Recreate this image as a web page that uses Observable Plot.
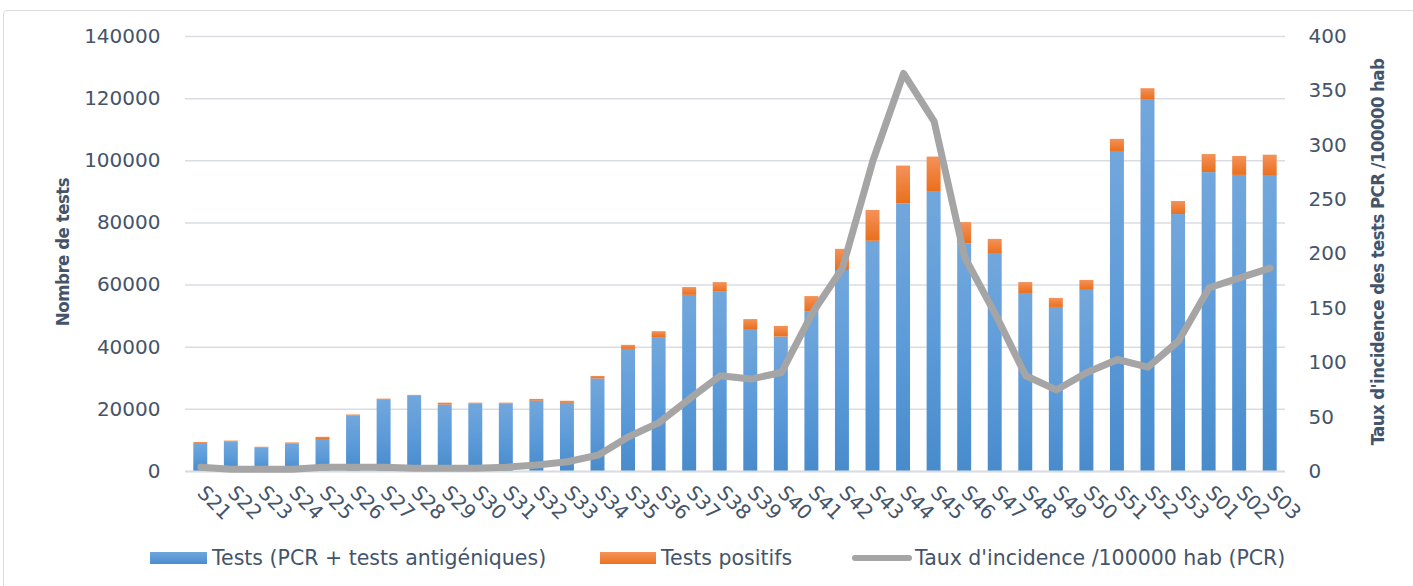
<!DOCTYPE html>
<html>
<head>
<meta charset="utf-8">
<script src="https://cdn.jsdelivr.net/npm/d3@7"></script>
<script src="https://cdn.jsdelivr.net/npm/@observablehq/plot@0.6"></script>
<style>
  html, body { margin: 0; padding: 0; background: #fff; }
  #wrap { position: relative; width: 1413px; height: 586px; overflow: hidden; font-family: "DejaVu Sans", sans-serif; color: #44546a; }
  #frame { position: absolute; left: 3px; top: 10px; width: 1430px; height: 600px; border: 1.5px solid #d9dde3; border-radius: 4px; box-sizing: border-box; }
  #chart { position: absolute; left: 0; top: 0; }
  .ytitle { position: absolute; font-family: "Liberation Sans Narrow", "DejaVu Sans Condensed", sans-serif; font-weight: bold; font-size: 18.5px; letter-spacing: -0.5px; color: #44546a; white-space: nowrap; transform: translate(-50%, -50%) rotate(-90deg); }
  #legend { position: absolute; top: 544px; left: 0; width: 1413px; height: 28px; font-size: 20.5px; }
  .li { position: absolute; top: 0; display: flex; align-items: center; height: 28px; white-space: nowrap; }
  .sw { display: inline-block; margin-right: 5px; }
</style>
</head>
<body>
<div id="wrap">
  <div id="frame"></div>
  <div id="chart"></div>
  <div class="ytitle" style="left:62px; top:252px;">Nombre de tests</div>
  <div class="ytitle" style="left:1377px; top:252px; letter-spacing:-0.6px;">Taux d'incidence des tests PCR /100000 hab</div>
  <div id="legend">
    <div class="li" style="left:150px;"><span class="sw" style="width:57px;height:12px;background:linear-gradient(#6fa6dc,#4a8ecf);"></span>Tests (PCR + tests antigéniques)</div>
    <div class="li" style="left:600px;"><span class="sw" style="width:56px;height:12px;background:linear-gradient(#f4935a,#ec7321);"></span>Tests positifs</div>
    <div class="li" style="left:852px;"><span class="sw" style="width:60px;height:6px;border-radius:3px;background:#a5a5a5;margin-right:3px;"></span>Taux d'incidence /100000 hab (PCR)</div>
  </div>
</div>
<script>
const weeks = ["S21","S22","S23","S24","S25","S26","S27","S28","S29","S30","S31","S32","S33","S34","S35","S36","S37","S38","S39","S40","S41","S42","S43","S44","S45","S46","S47","S48","S49","S50","S51","S52","S53","S01","S02","S03"];
const tests = [9000,9500,7550,8900,10300,17900,22950,24250,21400,21750,21750,22650,21950,29800,39300,43100,56700,57700,45700,43300,51300,64700,74100,86100,90100,73200,69900,57300,52800,58300,103000,119700,82700,96200,95300,95000];
const positifs = [300,300,250,300,700,300,350,250,600,250,250,550,650,800,1300,1900,2500,3100,3200,3400,5000,6800,9900,12200,11100,6900,4800,3500,2900,3200,3900,3500,4200,5800,6100,6800];
const incidence = [4,2,2,2,4,4,4,3,3,3,4,6,9,15,32,45,67,88,85,91,145,187,286,366,322,197,145,88,75,91,103,96,120,169,178,187];
const leftTicks = [0,20000,40000,60000,80000,100000,120000,140000];
const rightTicks = [0,50,100,150,200,250,300,350,400];

const ratio = 140000 / 400;
const rows = weeks.map((w, i) => ({week: w, tests: tests[i], positifs: positifs[i], incidence: incidence[i]}));

const inset = 8.3;
const chart = Plot.plot({
  width: 1413,
  height: 540,
  marginTop: 36,
  marginBottom: 69,
  marginLeft: 185,
  marginRight: 128,
  style: {fontFamily: "DejaVu Sans, sans-serif", fontSize: "20px", color: "#44546a", background: "transparent"},
  x: {domain: weeks, padding: 0, round: false},
  y: {domain: [0, 140000]},
  marks: [
    Plot.gridY(leftTicks, {stroke: "#d9dde3", strokeOpacity: 1, strokeWidth: 1.5}),
    Plot.barY(rows, {x: "week", y1: 0, y2: "tests", fill: "url(#gBlue)", insetLeft: inset, insetRight: inset}),
    Plot.barY(rows, {x: "week", y1: "tests", y2: d => d.tests + d.positifs, fill: "url(#gOrange)", insetLeft: inset, insetRight: inset}),
    Plot.ruleY([0], {stroke: "#d9dde3", strokeWidth: 2}),
    Plot.line(rows, {x: "week", y: d => d.incidence * ratio, stroke: "#a5a5a5", strokeWidth: 7, strokeLinecap: "round", strokeLinejoin: "round"}),
    Plot.axisY(leftTicks, {anchor: "left", tickSize: 0, tickPadding: 25, label: null, tickFormat: d => String(d)}),
    Plot.axisY(rightTicks.map(v => v * ratio), {anchor: "right", tickSize: 0, tickPadding: 23, label: null, tickFormat: d => String(Math.round(d / ratio))}),
    Plot.axisX({tickRotate: 45, tickSize: 0, tickPadding: 18, label: null})
  ]
});

const defs = d3.select(chart).insert("defs", ":first-child");
const g1 = defs.append("linearGradient").attr("id", "gBlue").attr("x1", 0).attr("y1", 0).attr("x2", 0).attr("y2", 1);
g1.append("stop").attr("offset", "0%").attr("stop-color", "#72a7dc");
g1.append("stop").attr("offset", "55%").attr("stop-color", "#5b9ad9");
g1.append("stop").attr("offset", "100%").attr("stop-color", "#488bcb");
const g2 = defs.append("linearGradient").attr("id", "gOrange").attr("x1", 0).attr("y1", 0).attr("x2", 0).attr("y2", 1);
g2.append("stop").attr("offset", "0%").attr("stop-color", "#f4925a");
g2.append("stop").attr("offset", "100%").attr("stop-color", "#ea6f1c");

document.getElementById("chart").appendChild(chart);
</script>
</body>
</html>
